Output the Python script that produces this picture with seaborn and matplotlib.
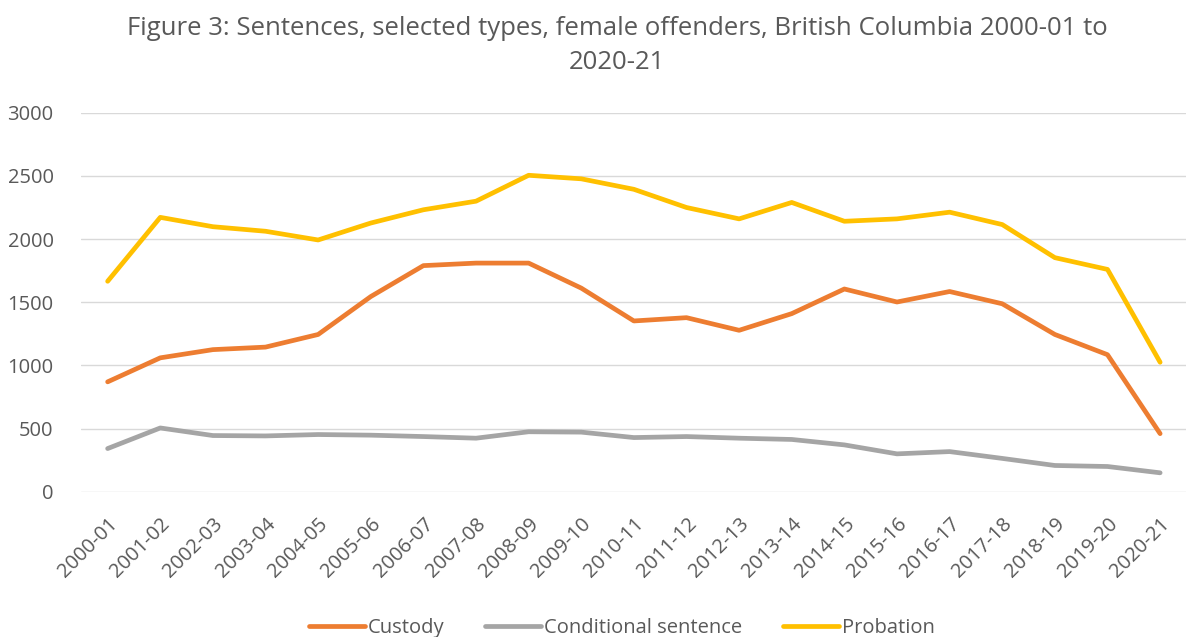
import matplotlib
matplotlib.use("Agg")
import matplotlib.pyplot as plt
import seaborn as sns
import pandas as pd

years = ["2000-01", "2001-02", "2002-03", "2003-04", "2004-05", "2005-06", "2006-07",
         "2007-08", "2008-09", "2009-10", "2010-11", "2011-12", "2012-13", "2013-14",
         "2014-15", "2015-16", "2016-17", "2017-18", "2018-19", "2019-20", "2020-21"]
custody = [870, 1060, 1125, 1145, 1245, 1545, 1790, 1810, 1810, 1612, 1352, 1378, 1278, 1410,
           1605, 1502, 1585, 1488, 1245, 1085, 460]
conditional = [342, 505, 445, 442, 453, 448, 437, 424, 475, 472, 429, 437, 424, 414,
               371, 300, 318, 264, 208, 200, 150]
probation = [1666, 2172, 2098, 2062, 1993, 2127, 2232, 2300, 2505, 2477, 2394, 2250, 2160, 2290,
             2141, 2160, 2213, 2115, 1853, 1760, 1025]

series = ["Custody", "Conditional sentence", "Probation"]
colours = ["#ED7D31", "#A5A5A5", "#FFC000"]

df = pd.DataFrame({
    "year": years * 3,
    "value": custody + conditional + probation,
    "type": [series[0]] * len(years) + [series[1]] * len(years) + [series[2]] * len(years),
})

sns.set_style("white")
plt.rcParams["font.family"] = ["Open Sans", "DejaVu Sans"]
txt = "#595959"

fig = plt.figure(figsize=(11.96, 6.37), dpi=100)
ax = fig.add_axes([0.068, 0.228, 0.924, 0.595])

sns.lineplot(data=df, x="year", y="value", hue="type", hue_order=series,
             palette=colours, linewidth=3.4, sort=False, ax=ax, legend=False)

ax.set_xlim(-0.5, len(years) - 0.5)
ax.set_ylim(0, 3000)
ax.set_yticks(range(0, 3001, 500))
ax.grid(axis="y", color="#d9d9d9", linewidth=1)
ax.set_axisbelow(True)
for s in ax.spines.values():
    s.set_visible(False)
ax.set_xlabel("")
ax.set_ylabel("")
ax.tick_params(axis="both", colors=txt, labelsize=14.5, length=0)
ax.tick_params(axis="y", pad=20)
plt.setp(ax.get_xticklabels(), rotation=45, ha="right", rotation_mode="anchor")
ax.tick_params(axis="x", pad=16)

fig.suptitle("Figure 3: Sentences, selected types, female offenders, British Columbia 2000-01 to\n2020-21",
             x=0.516, y=0.975, fontsize=18.5, color=txt, linespacing=1.5)

handles = [plt.Line2D([], [], color=c, linewidth=3.4) for c in colours]
fig.legend(handles, series, loc="lower center", bbox_to_anchor=(0.52, -0.03), ncol=3,
           frameon=False, fontsize=14.5, labelcolor=txt, handlelength=2.8, columnspacing=2.0,
           handletextpad=0.15)

fig.savefig("out.png", dpi=100)
